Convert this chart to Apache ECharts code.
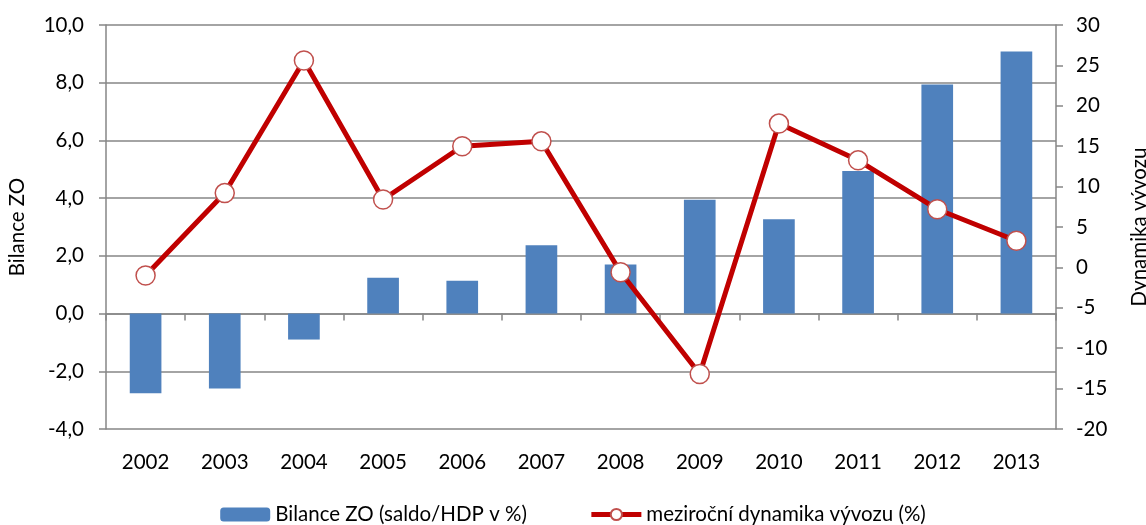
<!DOCTYPE html>
<html><head><meta charset="utf-8">
<script src="https://cdn.jsdelivr.net/npm/echarts@6/dist/echarts.min.js"></script>
<style>html,body{margin:0;padding:0;background:#fff}#c{width:1146px;height:525px}</style>
</head><body><div id="c"></div>
<script>
const years = ['2002','2003','2004','2005','2006','2007','2008','2009','2010','2011','2012','2013'];
const bilanceZO = [-2.76, -2.6, -0.9, 1.24, 1.14, 2.37, 1.70, 3.94, 3.27, 4.94, 7.94, 9.08];
const dynamikaVyvozu = [-1.0, 9.2, 25.6, 8.4, 15.0, 15.6, -0.6, -13.2, 17.8, 13.25, 7.2, 3.3];
const leftTicks = {min: -4, max: 10, interval: 2};
const rightTicks = {min: -20, max: 30, interval: 5};

const FONT = 'Lato';
const FS = 20.5;
const gray = '#868686';
const chart = echarts.init(document.getElementById('c'), null, {renderer: 'canvas'});
chart.setOption({
  animation: false,
  textStyle: {fontFamily: FONT},
  grid: {left: 106, right: 90, top: 25, bottom: 96, containLabel: false, outerBoundsMode: 'none'},
  legend: {
    bottom: 0, padding: 0, left: 'center', itemGap: 62, itemWidth: 50, itemHeight: 14,
    textStyle: {fontFamily: FONT, fontSize: FS, color: '#000'},
    data: [{name: 'Bilance ZO (saldo/HDP v %)'},
           {name: 'meziroční dynamika vývozu (%)', lineStyle: {width: 5, color: '#C00000'}}]
  },
  xAxis: [{
    type: 'category', data: years,
    axisLine: {onZero: true, onZeroAxisIndex: 0, lineStyle: {color: gray, width: 1.5}},
    axisTick: {show: true, inside: false, length: 7, lineStyle: {color: gray, width: 1.5}},
    axisLabel: {show: false},
    splitLine: {show: false}
  }, {
    type: 'category', data: years, position: 'bottom',
    axisLine: {show: false, onZero: false},
    axisTick: {show: false},
    axisLabel: {show: true, margin: 23, fontSize: FS, color: '#000', fontFamily: FONT},
    splitLine: {show: false}
  }],
  yAxis: [{
    type: 'value', position: 'left', min: leftTicks.min, max: leftTicks.max, interval: leftTicks.interval,
    name: 'Bilance ZO', nameLocation: 'middle', nameGap: 78, nameRotate: 90,
    nameTextStyle: {fontSize: FS, color: '#000', fontFamily: FONT},
    axisLine: {show: true, lineStyle: {color: gray, width: 1.5}},
    axisTick: {show: true, length: 7, lineStyle: {color: gray, width: 1.5}},
    axisLabel: {fontSize: FS, color: '#000', margin: 22, fontFamily: FONT,
      formatter: v => v.toFixed(1).replace('.', ',')},
    splitLine: {show: true, lineStyle: {color: gray, width: 1.5}}
  }, {
    type: 'value', position: 'right', min: rightTicks.min, max: rightTicks.max, interval: rightTicks.interval,
    name: 'Dynamika vývozu', nameLocation: 'middle', nameGap: 73, nameRotate: 90,
    nameTextStyle: {fontSize: FS, color: '#000', fontFamily: FONT},
    axisLine: {show: true, lineStyle: {color: gray, width: 1.5}},
    axisTick: {show: true, length: 7, lineStyle: {color: gray, width: 1.5}},
    axisLabel: {fontSize: FS, color: '#000', margin: 20, fontFamily: FONT, formatter: v => String(v)},
    splitLine: {show: false}
  }],
  series: [{
    name: 'Bilance ZO (saldo/HDP v %)', type: 'bar', xAxisIndex: 0, yAxisIndex: 0,
    data: bilanceZO, barWidth: '40%',
    itemStyle: {color: '#4F81BD'}
  }, {
    name: 'meziroční dynamika vývozu (%)', type: 'line', xAxisIndex: 0, yAxisIndex: 1,
    data: dynamikaVyvozu, symbol: 'circle', symbolSize: 19,
    lineStyle: {color: '#C00000', width: 5},
    itemStyle: {color: '#fff', borderColor: '#C0504D', borderWidth: 1.5},
    z: 5
  }]
});
</script></body></html>
